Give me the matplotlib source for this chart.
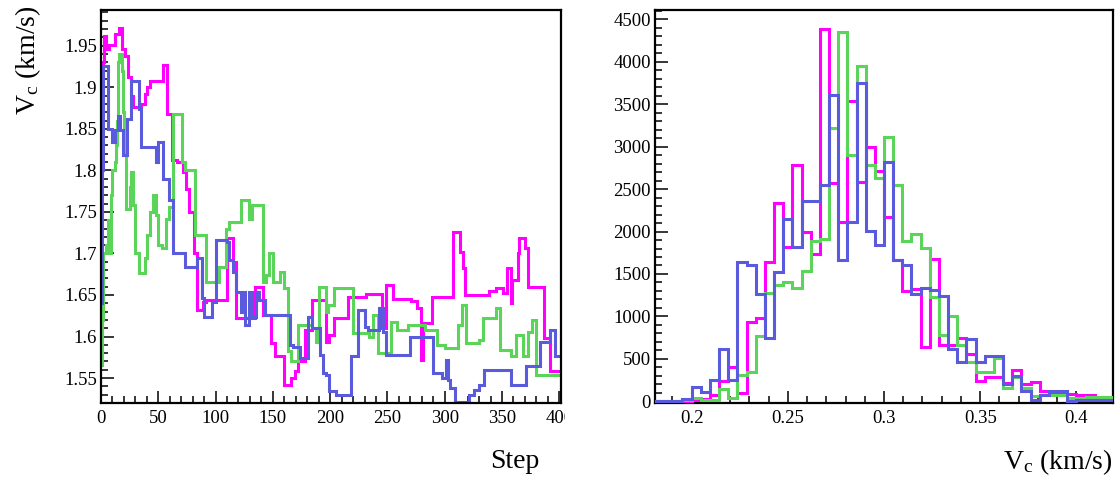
import numpy as np
import matplotlib
matplotlib.use('Agg')
import matplotlib.pyplot as plt
from matplotlib.ticker import MultipleLocator, FuncFormatter
from matplotlib.transforms import Bbox, TransformedBbox, IdentityTransform

plt.rcParams['font.family'] = ['Liberation Serif', 'DejaVu Serif']
plt.rcParams['mathtext.fontset'] = 'custom'
plt.rcParams['mathtext.rm'] = 'Liberation Serif'
plt.rcParams['mathtext.it'] = 'Liberation Serif:italic'

# ---------------- trace data (step, value at change points) ----------------
mag_steps = [0, 1, 2, 3, 4, 7, 12, 16, 18, 21, 24, 26, 28, 35, 38, 40, 43, 54, 58, 62,
             66, 72, 74, 77, 81, 84, 89, 92, 110, 115, 118, 134, 141, 148, 152, 160, 166, 169, 172, 178,
             184, 196, 199, 203, 216, 231, 245, 249, 255, 271, 276, 279, 281, 289, 307, 313, 316, 318, 339, 345,
             351, 354, 358, 359, 364, 365, 370, 373, 387, 392, 400]
mag_vals = [1.83, 1.89, 1.93, 1.962, 1.946, 1.951, 1.964, 1.971, 1.946, 1.938,
            1.912, 1.890, 1.876, 1.880, 1.892, 1.900, 1.908, 1.927, 1.868, 1.812,
            1.810, 1.798, 1.778, 1.750, 1.700, 1.632, 1.642, 1.644, 1.718, 1.690,
            1.622, 1.660, 1.626, 1.592, 1.576, 1.542, 1.550, 1.558, 1.570, 1.608,
            1.644, 1.594, 1.602, 1.622, 1.647, 1.651, 1.610, 1.662, 1.645, 1.643,
            1.634, 1.572, 1.616, 1.647, 1.726, 1.702, 1.682, 1.650, 1.655, 1.658,
            1.652, 1.682, 1.640, 1.668, 1.700, 1.718, 1.706, 1.660, 1.598, 1.558, 1.558]

grn_steps = [0, 1, 2, 4, 6, 7, 9, 10, 12, 13, 14, 15, 16, 18, 19, 20, 22, 25, 26, 28,
             30, 33, 38, 40, 43, 45, 48, 50, 53, 57, 59, 63, 71, 73, 82, 92, 103, 109, 112, 122,
             129, 132, 141, 144, 147, 150, 156, 160, 163, 166, 172, 184, 188, 190, 196, 198, 203, 220, 234, 237,
             242, 253, 258, 268, 283, 293, 300, 312, 315, 319, 330, 333, 345, 348, 358, 362, 368, 373, 376, 380, 400]
grn_vals = [1.566, 1.62, 1.70, 1.71, 1.74, 1.70, 1.77, 1.80, 1.81, 1.83,
            1.86, 1.93, 1.94, 1.92, 1.87, 1.818, 1.754, 1.78, 1.798, 1.758,
            1.700, 1.676, 1.694, 1.722, 1.750, 1.770, 1.746, 1.710, 1.706, 1.742,
            1.756, 1.868, 1.810, 1.800, 1.722, 1.666, 1.684, 1.730, 1.738, 1.764,
            1.742, 1.758, 1.666, 1.674, 1.700, 1.666, 1.678, 1.658, 1.582, 1.570,
            1.614, 1.610, 1.594, 1.660, 1.630, 1.638, 1.659, 1.604, 1.600, 1.626,
            1.580, 1.618, 1.608, 1.614, 1.608, 1.590, 1.586, 1.614, 1.638, 1.592,
            1.596, 1.622, 1.634, 1.584, 1.576, 1.602, 1.576, 1.606, 1.620, 1.554, 1.554]

blu_steps = [0, 1, 2, 6, 10, 12, 15, 17, 19, 23, 26, 33, 35, 48, 50, 54, 59, 63, 73, 84,
             88, 90, 97, 100, 110, 112, 115, 118, 122, 124, 126, 129, 132, 135, 138, 143, 165, 168, 174, 181,
             184, 191, 194, 196, 199, 205, 218, 224, 230, 233, 243, 246, 249, 270, 290, 298, 301, 303, 305, 309,
             321, 326, 330, 334, 358, 371, 383, 392, 396, 400]
blu_vals = [1.64, 1.80, 1.926, 1.850, 1.834, 1.848, 1.866, 1.848, 1.818, 1.862,
            1.908, 1.874, 1.828, 1.810, 1.834, 1.790, 1.764, 1.700, 1.684, 1.694,
            1.646, 1.624, 1.642, 1.716, 1.714, 1.692, 1.678, 1.654, 1.630, 1.654,
            1.614, 1.654, 1.624, 1.654, 1.644, 1.626, 1.590, 1.588, 1.574, 1.624,
            1.610, 1.578, 1.556, 1.554, 1.534, 1.530, 1.576, 1.632, 1.612, 1.608,
            1.634, 1.606, 1.578, 1.600, 1.556, 1.550, 1.572, 1.548, 1.538, 1.521,
            1.530, 1.536, 1.542, 1.560, 1.542, 1.564, 1.594, 1.608, 1.576, 1.576]

# ---------------- histogram data (50 bins) ----------------
hist_lo, hist_hi, hist_nbins = 0.181, 0.419, 50
mag_counts = [0, 0, 0, 0, 10, 30, 78, 235, 403, 94,
              935, 983, 1647, 2332, 1816, 2782, 2000, 1740, 4387, 2570,
              2110, 3540, 2587, 2995, 2708, 2170, 1670, 1303, 1326, 645,
              1680, 665, 665, 747, 552, 235, 290, 290, 210, 370,
              200, 225, 120, 110, 95, 90, 80, 80, 45, 30]
grn_counts = [0, 0, 0, 20, 39, 10, 10, 149, 39, 313,
              340, 770, 1280, 1375, 1410, 1330, 1540, 1890, 1910, 3220,
              4348, 2900, 3948, 2782, 2630, 3115, 2547, 1894, 1972, 1807,
              1229, 778, 1004, 661, 466, 348, 348, 505, 153, 290,
              153, 60, 75, 75, 75, 35, 35, 50, 50, 50]
blu_counts = [0, 0, 0, 30, 168, 110, 254, 618, 254, 1636,
              1605, 1270, 750, 1525, 2148, 1820, 2354, 2362, 2548, 3612,
              1670, 2110, 3750, 2011, 1843, 2814, 1667, 1600, 1268, 1338,
              1315, 1238, 618, 466, 731, 466, 536, 536, 200, 302,
              117, 20, 78, 117, 117, 0, 10, 10, 20, 10]

colors = {'mag': '#ff00ff', 'grn': '#5ad55a', 'blu': '#5a5adc'}
lw = 2.2

fig = plt.figure(figsize=(11.2, 4.8), dpi=100)
ax1 = fig.add_axes([101/1120, 77/480, 460/1120, 393/480])
ax2 = fig.add_axes([655/1120, 77/480, 458/1120, 393/480])

for s, v, c in [(mag_steps, mag_vals, 'mag'), (grn_steps, grn_vals, 'grn'), (blu_steps, blu_vals, 'blu')]:
    ax1.step(s, v, where='post', color=colors[c], lw=lw, solid_joinstyle='miter')

edges = np.linspace(hist_lo, hist_hi, hist_nbins + 1)
for h, c in [(mag_counts, 'mag'), (grn_counts, 'grn'), (blu_counts, 'blu')]:
    ax2.stairs(h, edges, color=colors[c], lw=lw, baseline=None, fill=False, zorder=3)

ax1.set_xlim(0, 401.5)
ax1.set_ylim(1.52, 1.993)
ax1.xaxis.set_major_locator(MultipleLocator(50))
ax1.xaxis.set_minor_locator(MultipleLocator(10))
ax1.yaxis.set_major_locator(MultipleLocator(0.05))
ax1.yaxis.set_minor_locator(MultipleLocator(0.01))

ax2.set_xlim(hist_lo, hist_hi)
ax2.set_ylim(-20, 4610)
ax2.xaxis.set_major_locator(MultipleLocator(0.05))
ax2.xaxis.set_minor_locator(MultipleLocator(0.01))
ax2.yaxis.set_major_locator(MultipleLocator(500))
ax2.yaxis.set_minor_locator(MultipleLocator(100))

fmt = FuncFormatter(lambda v, p: f'{v:g}')
for ax in (ax1, ax2):
    ax.xaxis.set_major_formatter(fmt)
    ax.yaxis.set_major_formatter(fmt)
    ax.tick_params(which='both', direction='in', top=False, right=False, width=1.1,
                   labelsize=13.5, colors='black')
    ax.tick_params(which='major', length=9)
    ax.tick_params(which='minor', length=4.8)
    ax.tick_params(axis='y', pad=3)
    ax.tick_params(axis='x', pad=5)
    for sp in ax.spines.values():
        sp.set_linewidth(1.6)

# clip the left panel's tick labels at the pad border, as in the reference
clip = TransformedBbox(Bbox.from_extents(0, 0, 565, 480), IdentityTransform())
for t in ax1.xaxis.get_major_ticks():
    t.label1.set_clip_box(clip)
    t.label1.set_clip_on(True)

fig.text(540/1120, 1 - 462/480, 'Step', ha='right', va='center', fontsize=20)
fig.text(1113/1120, 1 - 462/480, r'V$_{\rm c}$ (km/s)', ha='right', va='center', fontsize=20)
fig.text(28/1120, 1 - 5/480, r'V$_{\rm c}$ (km/s)', rotation=90, ha='center', va='top', fontsize=20)

fig.savefig('out.png', dpi=100)
